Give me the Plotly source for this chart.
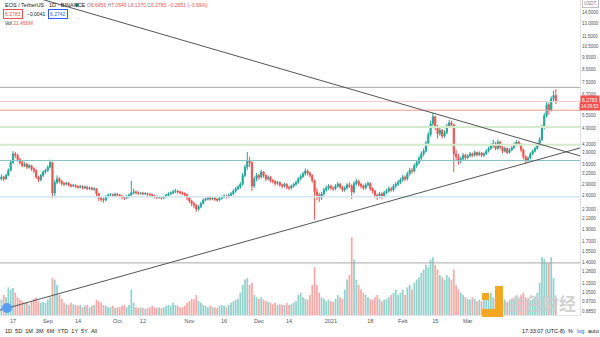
import math
import pandas as pd
import plotly.graph_objects as go

# ---------------- data ----------------
START = "2020-08-12"
FIRST_OPEN = 3.05
CLOSE = [
    3.10, 3.05, 3.15, 3.30, 3.55, 3.85, 3.80, 3.65, 3.55, 3.45,
    3.50, 3.40, 3.45, 3.35, 3.30, 3.10, 3.02, 3.15, 3.25, 3.30,
    3.40, 3.55, 2.67, 2.95, 3.05, 2.98, 2.92, 2.90, 2.93, 2.88,
    2.85, 2.87, 2.84, 2.82, 2.84, 2.80, 2.82, 2.78, 2.80, 2.77,
    2.78, 2.65, 2.55, 2.52, 2.50, 2.58, 2.62, 2.63, 2.61, 2.64,
    2.62, 2.60, 2.57, 2.55, 2.58, 2.62, 2.68, 2.70, 2.68, 2.66,
    2.67, 2.65, 2.66, 2.64, 2.63, 2.60, 2.58, 2.56, 2.57, 2.55,
    2.58, 2.62, 2.65, 2.67, 2.70, 2.72, 2.70, 2.68, 2.66, 2.63,
    2.55, 2.48, 2.42, 2.38, 2.30, 2.35, 2.42, 2.50, 2.52, 2.55,
    2.53, 2.55, 2.52, 2.50, 2.54, 2.57, 2.60, 2.58, 2.62, 2.65,
    2.72, 2.78, 2.82, 2.90, 3.15, 3.40, 3.60, 3.55, 2.85, 3.05,
    3.15, 3.10, 3.25, 3.15, 3.05, 3.10, 3.00, 2.98, 2.92, 2.95,
    2.88, 2.85, 2.90, 2.82, 2.80, 2.85, 2.90, 2.95, 3.05, 3.12,
    3.20, 3.28, 3.22, 3.15, 3.00, 2.70, 2.62, 2.55, 2.65, 2.75,
    2.80, 2.85, 2.80, 2.78, 2.85, 2.90, 2.82, 2.75, 2.80, 2.88,
    2.85, 2.70, 2.92, 2.98, 2.90, 2.85, 2.80, 2.88, 2.92, 2.78,
    2.72, 2.62, 2.58, 2.65, 2.60, 2.68, 2.72, 2.78, 2.75, 2.85,
    2.90, 2.95, 3.02, 3.10, 3.05, 3.20, 3.30, 3.28, 3.45, 3.55,
    3.70, 3.85, 3.95, 4.25, 4.60, 5.10, 5.45, 5.00, 4.65, 4.80,
    4.55, 4.70, 5.00, 5.15, 5.05, 3.85, 3.75, 3.60, 3.68, 3.80,
    3.72, 3.78, 3.85, 3.80, 3.90, 3.82, 3.88, 3.80, 3.85, 3.95,
    4.05, 4.15, 4.25, 4.05, 4.30, 4.10, 3.95, 4.05, 3.90, 4.00,
    4.08, 4.20, 4.30, 4.22, 4.00, 3.75, 3.62, 3.70, 3.85, 3.95,
    4.05, 4.20, 4.40, 4.95, 5.50, 6.10, 5.80, 6.45, 6.6456, 6.2783,
]
HIGH = [
    3.18, 3.14, 3.20, 3.36, 3.62, 3.95, 3.92, 3.85, 3.70, 3.60,
    3.56, 3.54, 3.50, 3.48, 3.40, 3.33, 3.14, 3.19, 3.30, 3.35,
    3.46, 3.65, 3.58, 3.02, 3.15, 3.10, 3.02, 2.96, 2.97, 2.96,
    2.91, 2.91, 2.90, 2.87, 2.88, 2.87, 2.86, 2.85, 2.84, 2.83,
    2.82, 2.80, 2.68, 2.60, 2.56, 2.62, 2.66, 2.67, 2.66, 2.68,
    2.67, 2.65, 2.62, 2.60, 2.62, 2.66, 3.00, 2.78, 2.73, 2.71,
    2.70, 2.70, 2.69, 2.68, 2.67, 2.65, 2.63, 2.61, 2.60, 2.60,
    2.61, 2.65, 2.69, 2.71, 2.76, 2.78, 2.75, 2.73, 2.71, 2.69,
    2.66, 2.58, 2.51, 2.46, 2.41, 2.39, 2.46, 2.54, 2.56, 2.58,
    2.58, 2.59, 2.57, 2.55, 2.57, 2.61, 2.64, 2.63, 2.66, 2.70,
    2.77, 2.83, 2.88, 2.96, 3.22, 3.48, 3.92, 3.75, 3.58, 3.12,
    3.22, 3.20, 3.32, 3.28, 3.18, 3.15, 3.13, 3.05, 3.01, 2.99,
    2.98, 2.92, 2.94, 2.93, 2.86, 2.89, 2.94, 3.00, 3.10, 3.18,
    3.26, 3.36, 3.32, 3.26, 3.18, 3.03, 2.80, 2.68, 2.70, 2.80,
    2.86, 2.90, 2.89, 2.84, 2.90, 2.96, 2.94, 2.86, 2.85, 2.93,
    2.95, 2.90, 2.98, 3.05, 3.02, 2.94, 2.89, 2.93, 2.98, 2.95,
    2.82, 2.75, 2.66, 2.70, 2.69, 2.73, 2.78, 2.84, 2.83, 2.91,
    2.96, 3.02, 3.08, 3.17, 3.15, 3.26, 3.38, 3.38, 3.52, 3.63,
    3.78, 3.94, 4.05, 4.35, 4.72, 5.25, 5.65, 5.50, 5.05, 4.92,
    4.86, 4.80, 5.10, 5.30, 5.25, 5.10, 4.00, 3.85, 3.76, 3.88,
    3.86, 3.84, 3.92, 3.90, 3.97, 3.94, 3.94, 3.92, 3.91, 4.02,
    4.12, 4.24, 4.40, 4.30, 4.40, 4.34, 4.14, 4.12, 4.08, 4.06,
    4.14, 4.28, 4.38, 4.35, 4.25, 4.04, 3.80, 3.76, 3.91, 4.02,
    4.12, 4.27, 4.50, 5.05, 5.65, 6.25, 6.20, 6.60, 6.95, 7.0549,
]
LOW = [
    3.00, 2.98, 3.02, 3.12, 3.27, 3.50, 3.70, 3.58, 3.48, 3.40,
    3.40, 3.34, 3.36, 3.28, 3.22, 3.05, 2.96, 2.98, 3.10, 3.20,
    3.26, 3.36, 2.55, 2.60, 2.90, 2.92, 2.86, 2.85, 2.87, 2.84,
    2.81, 2.82, 2.80, 2.78, 2.79, 2.76, 2.77, 2.74, 2.75, 2.73,
    2.72, 2.60, 2.48, 2.46, 2.44, 2.47, 2.55, 2.58, 2.57, 2.58,
    2.58, 2.56, 2.52, 2.50, 2.52, 2.55, 2.60, 2.64, 2.64, 2.62,
    2.63, 2.62, 2.62, 2.60, 2.59, 2.56, 2.54, 2.52, 2.53, 2.51,
    2.52, 2.55, 2.59, 2.62, 2.64, 2.67, 2.66, 2.64, 2.62, 2.58,
    2.50, 2.43, 2.36, 2.32, 2.24, 2.26, 2.32, 2.40, 2.47, 2.49,
    2.49, 2.50, 2.48, 2.46, 2.47, 2.51, 2.54, 2.54, 2.55, 2.59,
    2.62, 2.68, 2.74, 2.78, 2.86, 3.10, 3.32, 3.40, 2.72, 2.80,
    2.98, 3.02, 3.06, 3.08, 2.98, 3.00, 2.95, 2.92, 2.86, 2.88,
    2.83, 2.79, 2.81, 2.77, 2.74, 2.76, 2.81, 2.86, 2.91, 3.00,
    3.07, 3.14, 3.15, 3.08, 2.94, 2.08, 2.50, 2.45, 2.50, 2.60,
    2.70, 2.75, 2.75, 2.72, 2.74, 2.81, 2.77, 2.70, 2.70, 2.76,
    2.80, 2.52, 2.66, 2.86, 2.84, 2.79, 2.74, 2.76, 2.84, 2.72,
    2.66, 2.55, 2.50, 2.54, 2.52, 2.56, 2.64, 2.68, 2.70, 2.71,
    2.80, 2.85, 2.90, 2.97, 2.98, 3.00, 3.14, 3.20, 3.24, 3.38,
    3.48, 3.62, 3.76, 3.90, 4.18, 4.52, 5.00, 4.80, 4.45, 4.55,
    4.45, 4.48, 4.62, 4.92, 4.90, 3.25, 3.62, 3.48, 3.52, 3.62,
    3.64, 3.66, 3.73, 3.74, 3.76, 3.76, 3.78, 3.74, 3.75, 3.81,
    3.90, 4.00, 4.08, 3.98, 4.00, 4.02, 3.88, 3.90, 3.84, 3.86,
    3.95, 4.03, 4.15, 4.15, 3.92, 3.66, 3.52, 3.56, 3.66, 3.80,
    3.90, 4.00, 4.15, 4.35, 4.85, 5.40, 5.55, 5.72, 6.30, 6.1370,
]
VOLUME_M = [
    20, 26, 23, 36, 33, 35, 29, 23, 20, 18, 16,
    16, 13, 18, 21, 23, 18, 16, 17, 16, 20, 23,
    48, 46, 39, 26, 21,
    16, 14, 13, 16, 14, 13, 12, 13, 10, 12, 13, 10, 12, 13,
    20, 18, 16, 13,
    12, 10, 10, 12, 9, 10, 10, 12, 13, 10,
    13, 33, 16,
    10, 9, 10, 9, 8, 9, 10, 12, 10, 9, 10, 9, 10,
    12, 13, 12, 16, 13, 12, 10, 10, 12,
    16, 18, 21, 20, 26, 18, 16,
    13, 12, 10, 12, 10, 10, 9, 12, 13, 12, 10, 13, 16,
    18, 20, 21, 29, 39, 46, 48, 39, 42,
    26, 23, 21, 23, 20, 18, 17, 16, 14, 16, 13, 14, 13, 13,
    16, 13, 14, 16, 18, 26, 29,
    23, 21, 20, 26, 39, 62, 39, 29, 23, 21, 18,
    20, 18, 17, 21, 26, 23, 21, 33, 46, 52,
    101, 72, 46, 39, 33, 29, 26, 23, 21, 20,
    23, 26, 21, 18, 20, 21, 23, 26, 29, 33, 26, 29,
    33, 26, 36, 39, 33, 42, 46, 49, 55, 59, 65, 62, 72, 75,
    65, 59, 52, 49, 46, 52, 49, 46, 59,
    39, 33, 29, 26, 23, 21, 20, 23, 21, 18, 20, 18, 20, 23,
    26, 29, 23, 21, 26, 23, 18, 20, 17, 18, 21, 20, 23, 21,
    26, 29, 23, 20, 18, 21, 23, 29, 42, 75,
    73, 68, 68, 75, 48, 21.456,
]

# drawn levels and trendlines (price values)
LINE_DATES = ["2020-08-11 09:36", "2021-04-18 09:36"]
UPPER_TREND = [18.3, 3.78]
LOWER_TREND = [0.894, 4.07]
LEVEL_PRICES = [7.17, 6.2783, 5.79, 4.95, 4.19, 3.62, 2.58, 1.39]

PRICE_TICKS = [14.5, 13, 11.5, 10.5, 9.5, 8.5, 7.5, 6.7, 5.5, 4.9, 4.2, 3.9, 3.5,
               3.2, 2.9, 2.6, 2.3, 2.1, 1.9, 1.7, 1.55, 1.4, 1.28, 1.15, 1.05, 0.97, 0.885]
X_TICK_DATES = ["2020-08-17", "2020-09-01", "2020-09-14", "2020-10-01", "2020-10-12",
                "2020-11-01", "2020-11-16", "2020-12-01", "2020-12-14", "2021-01-01",
                "2021-01-18", "2021-02-01", "2021-02-15", "2021-03-01"]
X_TICK_TEXT = ["17", "Sep", "14", "Oct", "12", "Nov", "16", "Dec", "14", "2021",
               "18", "Feb", "15", "Mar"]

# ---------------- styles ----------------
LEVEL_COLORS = ["#a8a8a8", "#f6cbc7", "#f0988f", "#d3ebcb", "#d3ebcb", "#86c2ca", "#cfe5f0", "#a8a8a8"]
LEVEL_WIDTHS = [1, 1, 1, 2, 2, 1.2, 1.5, 1]
UP, DOWN = "#26a69a", "#ef5350"
W, H = 600, 337
PL, PR, PT, PB = 0, 20, 0, 22
PW, PH = W - PL - PR, H - PT - PB

dates = pd.date_range(START, periods=len(CLOSE), freq="D")
OPEN = [FIRST_OPEN] + CLOSE[:-1]
vol_colors = ["rgba(38,166,154,0.5)" if c >= o else "rgba(239,83,80,0.5)" for o, c in zip(OPEN, CLOSE)]

fig = go.Figure()
fig.add_trace(go.Bar(x=dates, y=VOLUME_M, marker_color=vol_colors, marker_line_width=0,
                     yaxis="y", hoverinfo="skip", showlegend=False))
for p, col, w in zip(LEVEL_PRICES, LEVEL_COLORS, LEVEL_WIDTHS):
    fig.add_trace(go.Scatter(x=LINE_DATES, y=[p, p], mode="lines", yaxis="y2",
                             line=dict(color=col, width=w), hoverinfo="skip", showlegend=False))
fig.add_trace(go.Candlestick(x=dates, open=OPEN, high=HIGH, low=LOW, close=CLOSE, yaxis="y2",
                             increasing=dict(line=dict(color=UP, width=1), fillcolor=UP),
                             decreasing=dict(line=dict(color=DOWN, width=1), fillcolor=DOWN),
                             whiskerwidth=0, hoverinfo="skip", showlegend=False))
for tr in (UPPER_TREND, LOWER_TREND):
    fig.add_trace(go.Scatter(x=LINE_DATES, y=tr, mode="lines", yaxis="y2",
                             line=dict(color="#555555", width=1), hoverinfo="skip", showlegend=False))

FONT = "Liberation Sans, Arial, sans-serif"


def px(x):
    return (x - PL) / PW


def py(y):
    return (PH - (y - PT)) / PH


ann = []


def text(x, y, s, size=5.5, color="#131722", anchor="left", **kw):
    ann.append(dict(x=px(x), y=py(y), xref="paper", yref="paper", text=s, showarrow=False,
                    xanchor=anchor, yanchor="middle", font=dict(size=size, color=color, family=FONT), **kw))


text(3, 5, "EOS / TetherUS · 1D · BINANCE", size=5.5)
text(85, 5, "<span style='color:#787b86'>O</span>6.6456 <span style='color:#787b86'>H</span>7.0549 "
     "<span style='color:#787b86'>L</span>6.1370 <span style='color:#787b86'>C</span>6.2783 −0.2651 (−3.99%)",
     size=5, color=DOWN)
text(3, 14, "6.2783", size=5, color=DOWN, bordercolor=DOWN, borderwidth=1, borderpad=1, bgcolor="white")
text(25, 14, "−0.0041", size=5, color="#131722")
text(48, 14, "6.2742", size=5, color="#2962ff", bordercolor="#2962ff", borderwidth=1, borderpad=1, bgcolor="white")
text(3, 23, "Vol <span style='color:#ef5350'>21.456M</span>", size=5)
text(590, 100, "6.2783", size=5, color="white", anchor="center", bgcolor=DOWN, borderpad=1)
text(590, 106, "14:26:53", size=4.5, color="white", anchor="center", bgcolor=DOWN, borderpad=1)
text(590, 4, "USDT", size=4.5, color="#787b86", anchor="center", bordercolor="#c0c0c0", borderwidth=1,
     borderpad=1, bgcolor="white")
text(3, 331, "1D&nbsp;&nbsp;5D&nbsp;&nbsp;1M&nbsp;&nbsp;3M&nbsp;&nbsp;6M&nbsp;&nbsp;YTD&nbsp;&nbsp;1Y&nbsp;&nbsp;5Y&nbsp;&nbsp;All",
     size=5.5)
text(543, 331, "17:33:07 (UTC-8)", size=5.5, anchor="center")
text(570, 331, "%", size=5.5, anchor="center")
text(580, 331, "log", size=5.5, color="#2962ff", anchor="center")
text(593, 331, "auto", size=5.5, anchor="center")
ann.append(dict(x=px(542), y=py(302), xref="paper", yref="paper", text="<b>金色财经</b>", showarrow=False,
                xanchor="center", yanchor="middle",
                font=dict(size=17, color="rgba(205,205,205,0.9)", family="Noto Sans CJK SC")))

shapes = [
    dict(type="circle", xref="paper", yref="paper", x0=px(75), x1=px(79), y0=py(7), y1=py(3),
         fillcolor=UP, line=dict(width=0)),
    dict(type="circle", xref="paper", yref="paper", x0=px(2), x1=px(12), y0=py(313), y1=py(303),
         fillcolor="#5b9cf6", line=dict(width=0)),
    dict(type="rect", xref="paper", yref="paper", x0=px(482), x1=px(489), y0=py(300), y1=py(293),
         fillcolor="#f5a623", line=dict(width=0)),
    dict(type="rect", xref="paper", yref="paper", x0=px(495), x1=px(503), y0=py(317), y1=py(286),
         fillcolor="#f5a623", line=dict(width=0)),
    dict(type="rect", xref="paper", yref="paper", x0=px(482), x1=px(503), y0=py(317), y1=py(309),
         fillcolor="#f5a623", line=dict(width=0)),
]

y_lo, y_hi = 0.8542, 16.22
fig.update_layout(
    width=W, height=H, margin=dict(l=PL, r=PR, t=PT, b=PB),
    paper_bgcolor="white", plot_bgcolor="white", showlegend=False,
    bargap=0.25,
    xaxis=dict(type="date", range=LINE_DATES, rangeslider=dict(visible=False),
               tickvals=X_TICK_DATES, ticktext=X_TICK_TEXT, showgrid=False, zeroline=False,
               showline=True, linecolor="#e0e3eb", linewidth=1, ticks="",
               tickfont=dict(size=5.5, color="#50535e", family=FONT)),
    yaxis=dict(range=[0, PH * 1.3], visible=False, fixedrange=True),
    yaxis2=dict(type="log", overlaying="y", side="right", anchor="x",
                range=[math.log10(y_lo), math.log10(y_hi)],
                tickvals=PRICE_TICKS, ticktext=[f"{v:.4f}" for v in PRICE_TICKS],
                showgrid=False, zeroline=False, ticks="", showline=True, linecolor="#e0e3eb",
                tickfont=dict(size=4.5, color="#50535e", family=FONT)),
    annotations=ann, shapes=shapes,
)

fig.write_html("out.html")
